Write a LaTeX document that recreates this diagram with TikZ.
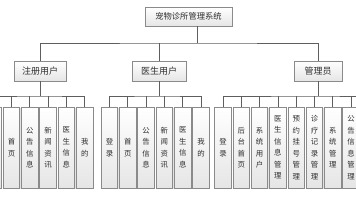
\documentclass[tikz,border=0pt]{standalone}
\usepackage{fontspec}
\newfontfamily\cjk{Noto Sans CJK SC}
\usetikzlibrary{shadows}
\definecolor{frame}{HTML}{8A8A8A}
\definecolor{wirec}{HTML}{5E5E5E}
\definecolor{ink}{HTML}{2E2E2E}

\begin{document}
\begin{tikzpicture}[
    x=1pt, y=-1pt,
    box/.style={draw=frame, line width=0.9pt, top color=white, bottom color=black!10,
                inner sep=0pt, text=ink,
                drop shadow={shadow xshift=0.9pt, shadow yshift=-0.9pt, fill=black!22}},
    top/.style={box, font=\cjk\fontsize{8.3}{10}\selectfont,
                minimum width=87pt, minimum height=19pt},
    role/.style={box, font=\cjk\fontsize{9}{11}\selectfont,
                 minimum height=20pt},
    leaf/.style={box, font=\cjk\fontsize{7.4}{11.5}\selectfont, align=center,
                 minimum width=16.5pt, minimum height=81pt},
    wire/.style={draw=wirec, line width=0.8pt},
]
\useasboundingbox (0,0) rectangle (356,200);

\node[top] (sys) at (188.5,16.5) {宠物诊所管理系统};

\node[role, minimum width=52pt] (reg) at (40,71) {注册用户};
\node[role, minimum width=54pt] (doc) at (159,71) {医生用户};
\node[role, minimum width=48pt] (adm) at (318,71) {管理员};

\coordinate (hub)  at (197,43);
\coordinate (busr) at (40,96);
\coordinate (busd) at (159,96);
\coordinate (busm) at (318,96);
\coordinate (mend) at (362,96);

\node[leaf] (r0) at (-6.8,147.5)  {登\\录};
\node[leaf] (r1) at (11.5,147.5)  {首\\页};
\node[leaf] (r2) at (29.8,147.5)  {公\\告\\信\\息};
\node[leaf] (r3) at (48.1,147.5)  {新\\闻\\资\\讯};
\node[leaf] (r4) at (66.4,147.5)  {医\\生\\信\\息};
\node[leaf] (r5) at (84.7,147.5)  {我\\的};

\node[leaf] (d1) at (109.5,147.5) {登\\录};
\node[leaf] (d2) at (127.8,147.5) {首\\页};
\node[leaf] (d3) at (146.1,147.5) {公\\告\\信\\息};
\node[leaf] (d4) at (164.4,147.5) {新\\闻\\资\\讯};
\node[leaf] (d5) at (182.7,147.5) {医\\生\\信\\息};
\node[leaf] (d6) at (201,147.5)   {我\\的};

\node[leaf] (m1) at (223,147.5)   {登\\录};
\node[leaf] (m2) at (241.3,147.5) {后\\台\\首\\页};
\node[leaf] (m3) at (259.6,147.5) {系\\统\\用\\户};
\node[leaf] (m4) at (277.9,147.5) {医\\生\\信\\息\\管\\理};
\node[leaf] (m5) at (296.2,147.5) {预\\约\\挂\\号\\管\\理};
\node[leaf] (m6) at (314.5,147.5) {诊\\疗\\记\\录\\管\\理};
\node[leaf] (m7) at (332.8,147.5) {系\\统\\管\\理};
\node[leaf] (m8) at (351.1,147.5) {公\\告\\信\\息\\管\\理};

\draw[wire] (sys.south -| hub) -- (hub);
\draw[wire] (reg) |- (hub) -| (adm);
\draw[wire] (doc) -- (doc |- hub);

\draw[wire] (reg) -- (busr) (r0) |- (busr) -| (r5)
    (r1) -- (r1 |- busr) (r2) -- (r2 |- busr)
    (r3) -- (r3 |- busr) (r4) -- (r4 |- busr);

\draw[wire] (doc) -- (busd) (d1) |- (busd) -| (d6)
    (d2) -- (d2 |- busd) (d3) -- (d3 |- busd)
    (d4) -- (d4 |- busd) (d5) -- (d5 |- busd);

\draw[wire] (adm) -- (busm) (m1) |- (busm) -- (mend)
    (m2) -- (m2 |- busm) (m3) -- (m3 |- busm)
    (m4) -- (m4 |- busm) (m5) -- (m5 |- busm)
    (m6) -- (m6 |- busm) (m7) -- (m7 |- busm)
    (m8) -- (m8 |- busm);

\end{tikzpicture}
\end{document}
